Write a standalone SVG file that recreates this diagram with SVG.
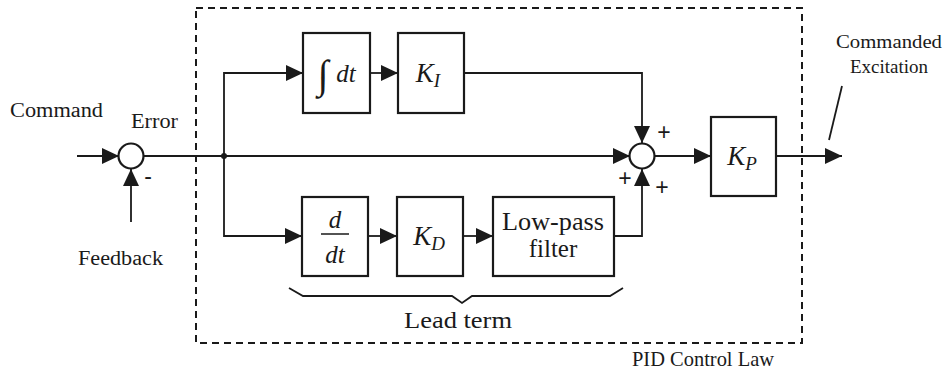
<svg xmlns="http://www.w3.org/2000/svg" width="948" height="371" viewBox="0 0 948 371">
<style>
  .ln { fill: none; stroke: #1a1a1a; stroke-width: 1.8; }
  .box { fill: #fff; stroke: #1a1a1a; stroke-width: 2.2; }
  .sum { fill: #fff; stroke: #1a1a1a; stroke-width: 2.2; }
  .dash { fill: none; stroke: #1a1a1a; stroke-width: 2; stroke-dasharray: 7 5; }
  .t { font-family: "Liberation Serif", "Times New Roman", serif; fill: #1a1a1a; }
  .lbl { font-size: 20px; }
  .bt { font-size: 25px; }
  .it { font-style: italic; }
  .sg { font-family: "Liberation Sans", Arial, sans-serif; font-size: 23px; fill: #1a1a1a; }
</style>
<defs>
  <marker id="ah" markerUnits="userSpaceOnUse" markerWidth="18" markerHeight="16" refX="17" refY="8" orient="auto">
    <path d="M0,0 L17,8 L0,16 Z" fill="#1a1a1a"/>
  </marker>
</defs>

<rect class="dash" x="196" y="8" width="606" height="335"/>

<g id="connectors">
  <line class="ln" x1="77" y1="156" x2="119" y2="156" marker-end="url(#ah)"/>
  <line class="ln" x1="131" y1="222" x2="131" y2="169" marker-end="url(#ah)"/>
  <line class="ln" x1="143" y1="156" x2="630" y2="156" marker-end="url(#ah)"/>
  <circle cx="224" cy="156" r="3" fill="#1a1a1a"/>
  <path class="ln" d="M224,156 V73 H303" marker-end="url(#ah)"/>
  <line class="ln" x1="370" y1="73" x2="398" y2="73" marker-end="url(#ah)"/>
  <path class="ln" d="M464,73 H642 V143" marker-end="url(#ah)"/>
  <path class="ln" d="M224,156 V236 H302" marker-end="url(#ah)"/>
  <line class="ln" x1="368" y1="236" x2="397" y2="236" marker-end="url(#ah)"/>
  <line class="ln" x1="463" y1="236" x2="493" y2="236" marker-end="url(#ah)"/>
  <path class="ln" d="M614,236 H642 V169" marker-end="url(#ah)"/>
  <line class="ln" x1="655" y1="156" x2="711" y2="156" marker-end="url(#ah)"/>
  <line class="ln" x1="776" y1="156" x2="842" y2="156" marker-end="url(#ah)"/>
  <line class="ln" x1="842" y1="86" x2="829" y2="140"/>
  <path class="ln" d="M289,288 L303,296 L452,296 L462,303 L472,296 L610,296 L623,288"/>
</g>

<g id="sum1">
  <circle class="sum" cx="131" cy="156" r="12.5"/>
  <text class="sg" x="148" y="184" text-anchor="middle">-</text>
</g>
<g id="sum2">
  <circle class="sum" cx="642" cy="156" r="12.5"/>
  <text class="sg" x="664" y="140" text-anchor="middle">+</text>
  <text class="sg" x="625" y="186" text-anchor="middle">+</text>
  <text class="sg" x="662" y="195" text-anchor="middle">+</text>
</g>

<g id="integrator">
  <rect class="box" x="303" y="33" width="67" height="80"/>
  <text class="t" x="323" y="88" font-size="40" text-anchor="middle">∫</text>
  <text class="t it bt" x="346" y="82" text-anchor="middle">dt</text>
</g>
<g id="ki">
  <rect class="box" x="398" y="33" width="66" height="80"/>
  <text class="t it" x="428" y="82" font-size="27" text-anchor="middle">K<tspan font-size="19" dy="5">I</tspan></text>
</g>
<g id="ddt">
  <rect class="box" x="302" y="197" width="66" height="79"/>
  <text class="t it bt" x="335" y="228" text-anchor="middle">d</text>
  <line x1="321" y1="234" x2="349" y2="234" stroke="#1a1a1a" stroke-width="1.5"/>
  <text class="t it bt" x="335" y="263" text-anchor="middle">dt</text>
</g>
<g id="kd">
  <rect class="box" x="397" y="197" width="66" height="79"/>
  <text class="t it" x="429" y="245" font-size="27" text-anchor="middle">K<tspan font-size="19" dy="5">D</tspan></text>
</g>
<g id="lowpass">
  <rect class="box" x="493" y="197" width="121" height="79"/>
  <text class="t bt" x="553" y="230" text-anchor="middle" textLength="102" lengthAdjust="spacingAndGlyphs">Low-pass</text>
  <text class="t bt" x="553" y="257" text-anchor="middle">filter</text>
</g>
<g id="kp">
  <rect class="box" x="711" y="117" width="65" height="79"/>
  <text class="t it" x="742" y="165" font-size="27" text-anchor="middle">K<tspan font-size="19" dy="5">P</tspan></text>
</g>

<g id="labels">
  <text class="t lbl" x="10" y="117" textLength="93" lengthAdjust="spacingAndGlyphs">Command</text>
  <text class="t lbl" x="131" y="128" textLength="47" lengthAdjust="spacingAndGlyphs">Error</text>
  <text class="t lbl" x="78" y="265" textLength="85" lengthAdjust="spacingAndGlyphs">Feedback</text>
  <text class="t" x="889" y="48" font-size="19" text-anchor="middle" textLength="106" lengthAdjust="spacingAndGlyphs">Commanded</text>
  <text class="t" x="889" y="73" font-size="19" text-anchor="middle" textLength="78" lengthAdjust="spacingAndGlyphs">Excitation</text>
  <text class="t" x="458" y="328" font-size="23" text-anchor="middle" textLength="108" lengthAdjust="spacingAndGlyphs">Lead term</text>
  <text class="t" x="632" y="366" font-size="22" textLength="142" lengthAdjust="spacingAndGlyphs">PID Control Law</text>
</g>
</svg>
